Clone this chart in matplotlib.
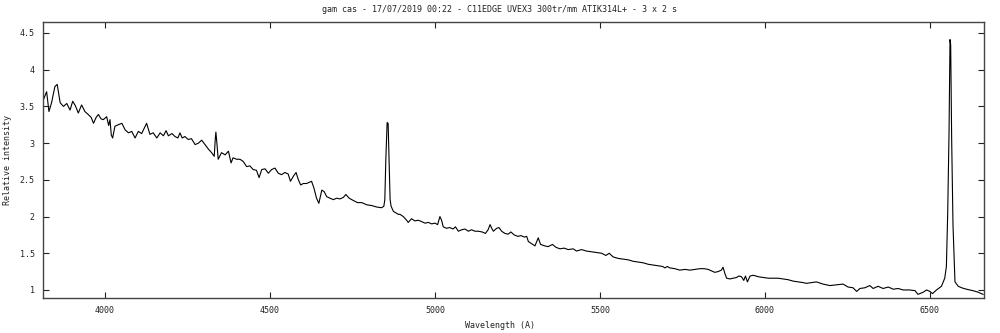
import matplotlib
matplotlib.use("Agg")
import matplotlib.pyplot as plt
from matplotlib.ticker import FixedLocator, FuncFormatter

title = "gam cas - 17/07/2019 00:22 - C11EDGE UVEX3 300tr/mm ATIK314L+ - 3 x 2 s"
xlabel = "Wavelength (A)"
ylabel = "Relative intensity"

wavelength = [
    3813, 3823, 3830, 3838, 3848, 3855, 3864, 3874, 3884, 3894, 3902, 3910, 3919, 3929,
    3939, 3949, 3958, 3965, 3973, 3980, 3988, 3995, 4005, 4011, 4015, 4019, 4023, 4030,
    4040, 4051, 4061, 4071, 4081, 4091, 4101, 4111, 4126, 4136, 4146, 4157, 4167, 4177,
    4185, 4192, 4203, 4212, 4221, 4227, 4234, 4242, 4252, 4262, 4273, 4283, 4293, 4303,
    4313, 4323, 4331, 4334, 4336, 4339, 4343, 4353, 4364, 4374, 4382, 4388, 4399, 4409,
    4419, 4429, 4439, 4449, 4459, 4467, 4475, 4485, 4495, 4505, 4515, 4525, 4535, 4545,
    4555, 4562, 4571, 4579, 4586, 4593, 4601, 4611, 4626, 4633, 4641, 4648, 4657, 4664,
    4672, 4682, 4692, 4702, 4712, 4722, 4730, 4740, 4752, 4765, 4778, 4793, 4808, 4823,
    4838, 4845, 4848, 4851, 4855, 4858, 4861, 4864, 4867, 4874, 4889, 4894, 4904, 4914,
    4919, 4929, 4939, 4949, 4960, 4970, 4980, 4990, 5000, 5008, 5015, 5020, 5025, 5035,
    5045, 5055, 5062, 5071, 5081, 5091, 5101, 5111, 5121, 5131, 5143, 5153, 5161, 5167,
    5172, 5177, 5187, 5194, 5202, 5212, 5222, 5230, 5240, 5251, 5261, 5271, 5278, 5283,
    5293, 5303, 5313, 5320, 5333, 5343, 5356, 5367, 5379, 5391, 5404, 5419, 5429, 5444,
    5459, 5475, 5490, 5505, 5518, 5528, 5540, 5555, 5571, 5586, 5601, 5616, 5631, 5646,
    5661, 5677, 5690, 5697, 5704, 5712, 5727, 5742, 5758, 5773, 5788, 5803, 5816, 5828,
    5838, 5848, 5858, 5868, 5873, 5879, 5884, 5894, 5904, 5914, 5921, 5929, 5936, 5941,
    5947, 5955, 5965, 5980, 5995, 6010, 6025, 6040, 6055, 6070, 6086, 6101, 6116, 6126,
    6141, 6156, 6176, 6197, 6217, 6237, 6252, 6267, 6278, 6288, 6303, 6318, 6328, 6343,
    6358, 6374, 6389, 6404, 6419, 6439, 6455, 6464, 6480, 6490, 6500, 6508, 6520, 6535,
    6545, 6550, 6554, 6558, 6561, 6563, 6566, 6570, 6576, 6586, 6596, 6611, 6631, 6646,
    6661,
]

intensity = [
    3.59, 3.70, 3.43, 3.55, 3.77, 3.80, 3.55, 3.50, 3.54, 3.45, 3.57, 3.51, 3.41, 3.52,
    3.43, 3.39, 3.35, 3.27, 3.35, 3.39, 3.33, 3.32, 3.36, 3.24, 3.32, 3.11, 3.07, 3.23,
    3.25, 3.27, 3.18, 3.14, 3.16, 3.07, 3.16, 3.13, 3.27, 3.12, 3.14, 3.07, 3.14, 3.10,
    3.17, 3.10, 3.13, 3.09, 3.07, 3.14, 3.07, 3.09, 3.05, 3.06, 2.98, 3.00, 3.04, 2.98,
    2.92, 2.87, 2.82, 3.05, 3.15, 3.00, 2.78, 2.87, 2.84, 2.89, 2.73, 2.80, 2.78, 2.78,
    2.75, 2.68, 2.69, 2.64, 2.63, 2.53, 2.64, 2.65, 2.59, 2.64, 2.66, 2.59, 2.57, 2.60,
    2.58, 2.48, 2.55, 2.60, 2.50, 2.43, 2.45, 2.45, 2.48, 2.39, 2.25, 2.18, 2.36, 2.34,
    2.27, 2.25, 2.23, 2.25, 2.24, 2.26, 2.30, 2.25, 2.22, 2.19, 2.19, 2.16, 2.15, 2.13,
    2.12, 2.14, 2.23, 2.77, 3.28, 3.27, 2.77, 2.23, 2.14, 2.07, 2.03, 2.03, 2.00, 1.95,
    1.92, 1.97, 1.94, 1.95, 1.93, 1.91, 1.92, 1.90, 1.91, 1.89, 2.00, 1.95, 1.86, 1.84,
    1.85, 1.83, 1.86, 1.80, 1.82, 1.83, 1.80, 1.82, 1.80, 1.80, 1.79, 1.77, 1.82, 1.89,
    1.84, 1.80, 1.84, 1.85, 1.80, 1.77, 1.76, 1.79, 1.75, 1.73, 1.74, 1.72, 1.73, 1.66,
    1.63, 1.60, 1.71, 1.62, 1.60, 1.59, 1.62, 1.58, 1.56, 1.57, 1.55, 1.56, 1.53, 1.55,
    1.53, 1.52, 1.51, 1.50, 1.47, 1.50, 1.45, 1.43, 1.42, 1.41, 1.39, 1.38, 1.37, 1.35,
    1.34, 1.33, 1.32, 1.30, 1.32, 1.30, 1.29, 1.27, 1.28, 1.27, 1.28, 1.29, 1.29, 1.28,
    1.26, 1.24, 1.25, 1.27, 1.31, 1.22, 1.16, 1.15, 1.16, 1.17, 1.19, 1.18, 1.13, 1.19,
    1.11, 1.19, 1.20, 1.18, 1.17, 1.16, 1.16, 1.16, 1.15, 1.14, 1.12, 1.11, 1.10, 1.09,
    1.10, 1.11, 1.08, 1.06, 1.07, 1.08, 1.04, 1.03, 0.98, 1.02, 1.03, 1.06, 1.02, 1.05,
    1.02, 1.04, 1.01, 1.02, 1.00, 1.00, 0.99, 0.94, 0.97, 1.00, 0.98, 0.95, 1.00, 1.05,
    1.16, 1.32, 2.05, 3.14, 4.41, 4.34, 3.05, 1.89, 1.11, 1.05, 1.03, 1.01, 0.99, 0.97,
    0.94,
]

x_ticks = [4000, 4500, 5000, 5500, 6000, 6500]
y_ticks = [1, 1.5, 2, 2.5, 3, 3.5, 4, 4.5]

font = "DejaVu Sans Mono"
plt.rcParams["font.family"] = font
plt.rcParams["font.size"] = 6

fig = plt.figure(figsize=(10, 3.33), dpi=100)
ax = fig.add_axes([0.043, 0.105, 0.941, 0.829])
ax.plot(wavelength, intensity, color="black", linewidth=0.8)

ax.set_xlim(3812, 6664)
ax.set_ylim(0.89, 4.65)
ax.xaxis.set_major_locator(FixedLocator(x_ticks))
ax.yaxis.set_major_locator(FixedLocator(y_ticks))
ax.yaxis.set_major_formatter(FuncFormatter(lambda v, p: f"{v:g}"))
ax.tick_params(direction="in", length=4, width=0.8, top=True, right=True,
               labelsize=6, colors="#222222", pad=6)
for s in ax.spines.values():
    s.set_color("#444444")
    s.set_linewidth(1.0)

fig.text(0.5, 0.97, title, ha="center", va="center", fontsize=6, color="#222222")
fig.text(0.5, 0.022, xlabel, ha="center", va="center", fontsize=6, color="#222222")
fig.text(0.008, 0.52, ylabel, ha="center", va="center", rotation=90, fontsize=6, color="#222222")

fig.savefig("out.png", dpi=100)
